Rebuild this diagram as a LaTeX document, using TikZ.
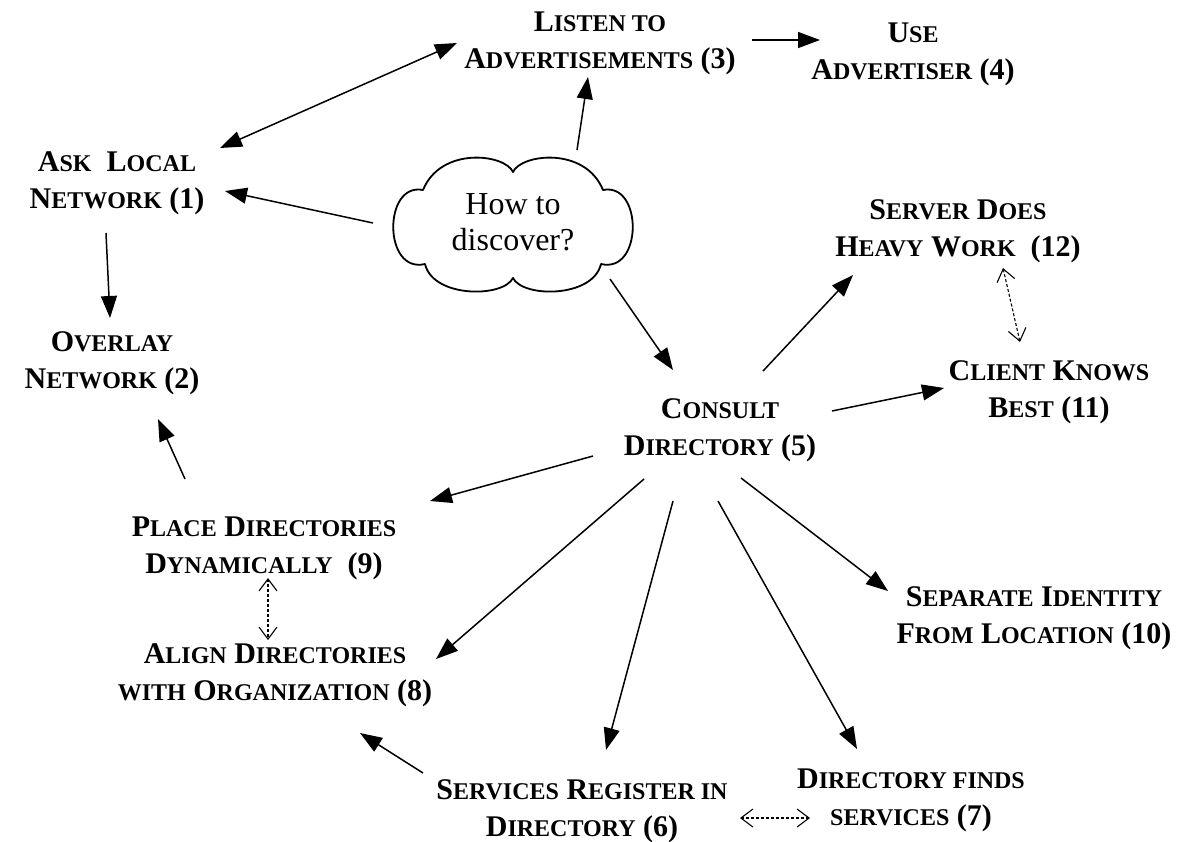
\documentclass[tikz,border=0pt]{standalone}
\usepackage{fontspec}
\setmainfont{Liberation Serif}
\usetikzlibrary{arrows.meta,calc}
\newcommand\capsm[1]{{\fontsize{24}{37}\selectfont\MakeUppercase{#1}}}

\begin{document}
\begin{tikzpicture}[
  x=1pt, y=-1pt,
  lbl/.style={font=\fontsize{30}{37}\selectfont\bfseries, align=center, inner sep=0pt},
  idea/.style={align=center, inner sep=0pt, font=\fontsize{32}{36}\selectfont},
  cloudline/.style={line width=1.8pt, line join=round},
  arr/.style={-{Triangle[length=22pt,width=16pt]}, line width=1.5pt},
  biarr/.style={{Triangle[length=22pt,width=16pt]}-{Triangle[length=22pt,width=16pt]}, line width=1.5pt},
  alt/.style={{Straight Barb[length=12pt,width=18pt]}-{Straight Barb[length=12pt,width=18pt]},
    dashed, dash pattern=on 3pt off 2pt, line width=1.1pt}
]
  \useasboundingbox (0,0) rectangle (1193,841);

  \node[idea] (how) at (513,222) {How to\\discover?};
  % cloud outline round the question
  \begin{scope}[shift={(how)}]
    \draw[cloudline] (0,-50)
      .. controls (8,-68) and (72,-76) .. (90,-32)
      .. controls (130,-40) and (130,52) .. (88,42)
      .. controls (80,76) and (10,76) .. (0,56)
      .. controls (-10,76) and (-80,76) .. (-88,42)
      .. controls (-130,52) and (-130,-40) .. (-90,-32)
      .. controls (-72,-76) and (-8,-68) .. cycle;
  \end{scope}

  \node[lbl] (ask) at (117,183) {A\capsm{sk}\ \ L\capsm{ocal}\\N\capsm{etwork} (1)};
  \node[lbl] (overlay) at (112,363) {O\capsm{verlay}\\N\capsm{etwork} (2)};
  \node[lbl] (listen) at (600,43) {L\capsm{isten to}\\A\capsm{dvertisements} (3)};
  \node[lbl] (use) at (913,54) {U\capsm{se}\\A\capsm{dvertiser} (4)};
  \node[lbl] (consult) at (720,430) {C\capsm{onsult}\\D\capsm{irectory} (5)};
  \node[lbl] (register) at (582,811) {S\capsm{ervices} R\capsm{egister in}\\D\capsm{irectory} (6)};
  \node[lbl] (finds) at (911,800) {D\capsm{irectory finds}\\\capsm{services} (7)};
  \node[lbl] (align) at (275,675) {A\capsm{lign} D\capsm{irectories}\\\capsm{with} O\capsm{rganization} (8)};
  \node[lbl] (place) at (264,548) {P\capsm{lace} D\capsm{irectories}\\D\capsm{ynamically}\ \ (9)};
  \node[lbl] (separate) at (1034,618) {S\capsm{eparate} I\capsm{dentity}\\F\capsm{rom} L\capsm{ocation} (10)};
  \node[lbl] (client) at (1049,392) {C\capsm{lient} K\capsm{nows}\\B\capsm{est} (11)};
  \node[lbl] (server) at (958,231) {S\capsm{erver} D\capsm{oes}\\H\capsm{eavy} W\capsm{ork}\ \ (12)};

  % from the cloud
  \draw[arr] ($(how)+(-140,1)$) -- ($(ask)+(108,8)$);
  \draw[arr] ($(how)+(64,-72)$) -- ($(listen)+(-12,34)$);
  \draw[arr] ($(how)+(97,57)$) -- ($(consult)+(-47,-60)$);

  % top row
  \draw[biarr] ($(ask)+(103,-35)$) -- ($(listen)+(-143,0)$);
  \draw[arr] ($(listen)+(152,-3)$) -- ($(use)+(-93,-14)$);
  \draw[arr] ($(ask)+(-11,50)$) -- ($(overlay)+(-2,-45)$);

  % out of the directory
  \draw[arr] ($(consult)+(43,-59)$) -- ($(server)+(-105,44)$);
  \draw[arr] ($(consult)+(112,-19)$) -- ($(client)+(-105,-4)$);
  \draw[arr] ($(consult)+(-127,26)$) -- ($(place)+(166,-47)$);
  \draw[arr] ($(consult)+(-76,49)$) -- ($(align)+(161,-16)$);
  \draw[arr] ($(consult)+(-47,71)$) -- ($(register)+(24,-61)$);
  \draw[arr] ($(consult)+(-2,71)$) -- ($(finds)+(-54,-51)$);
  \draw[arr] ($(consult)+(21,48)$) -- ($(separate)+(-146,-27)$);

  \draw[arr] ($(register)+(-159,-38)$) -- ($(align)+(85,58)$);
  \draw[arr] ($(place)+(-79,-69)$) -- ($(overlay)+(46,56)$);

  % alternatives
  \draw[alt] ($(server)+(45,37)$) -- ($(client)+(-29,-50)$);
  \draw[alt] ($(place)+(4,30)$) -- ($(align)+(-7,-35)$);
  \draw[alt] ($(register)+(158,7)$) -- ($(finds)+(-101,18)$);
\end{tikzpicture}
\end{document}
